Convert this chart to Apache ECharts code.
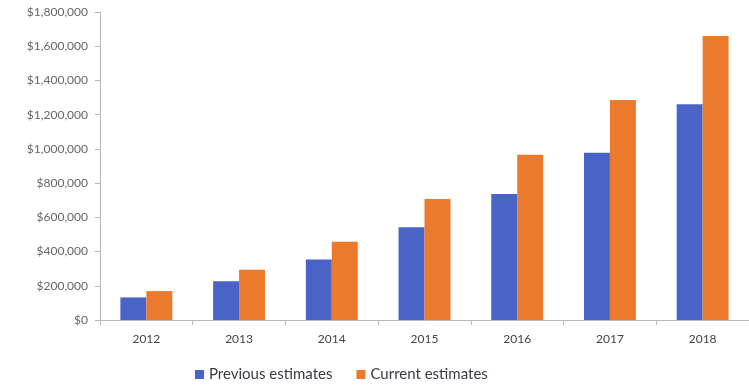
<!DOCTYPE html>
<html>
<head>
<meta charset="utf-8">
<script src="https://cdn.jsdelivr.net/npm/echarts@6/dist/echarts.min.js"></script>
<style>
  html, body { margin: 0; padding: 0; background: #fff; }
  #chart { width: 749px; height: 387px; }
</style>
</head>
<body>
<div id="chart"></div>
<script>
// data
const years = ['2012', '2013', '2014', '2015', '2016', '2017', '2018']
const previousEstimates = [132000, 227000, 354000, 542000, 736000, 978000, 1261000]
const currentEstimates = [169000, 293000, 458000, 707000, 966000, 1286000, 1660000]

const chart = echarts.init(document.getElementById('chart'))

const fmt = v => '$' + v.toLocaleString('en-US')

chart.setOption({
  animation: false,
  textStyle: { fontFamily: 'Lato' },
  grid: { left: 100, right: 0, top: 12, bottom: 67 },
  legend: {
    bottom: 0,
    left: 190,
    itemWidth: 9,
    itemHeight: 9,
    itemGap: 24,
    icon: 'rect',
    textStyle: { color: '#3a3a4a', fontSize: 15, fontFamily: 'Lato' },
    data: ['Previous estimates', 'Current estimates']
  },
  xAxis: {
    type: 'category',
    data: years,
    axisLine: { lineStyle: { color: '#b8b8b8' } },
    axisTick: { show: true, alignWithLabel: false, length: 5, lineStyle: { color: '#b8b8b8' } },
    axisLabel: { color: '#444', fontSize: 12, margin: 13 }
  },
  yAxis: {
    type: 'value',
    min: 0,
    max: 1800000,
    interval: 200000,
    axisLine: { show: true, lineStyle: { color: '#b8b8b8' } },
    axisTick: { show: true, length: 5, lineStyle: { color: '#b8b8b8' } },
    splitLine: { show: false },
    axisLabel: { color: '#666', fontSize: 12, margin: 12, formatter: fmt }
  },
  series: [
    {
      name: 'Previous estimates',
      type: 'bar',
      data: previousEstimates,
      barGap: '0%',
      barCategoryGap: '44%',
      itemStyle: { color: '#4a63c6' }
    },
    {
      name: 'Current estimates',
      type: 'bar',
      data: currentEstimates,
      barGap: '0%',
      barCategoryGap: '44%',
      itemStyle: { color: '#ec7a2c' }
    }
  ]
})
</script>
</body>
</html>
